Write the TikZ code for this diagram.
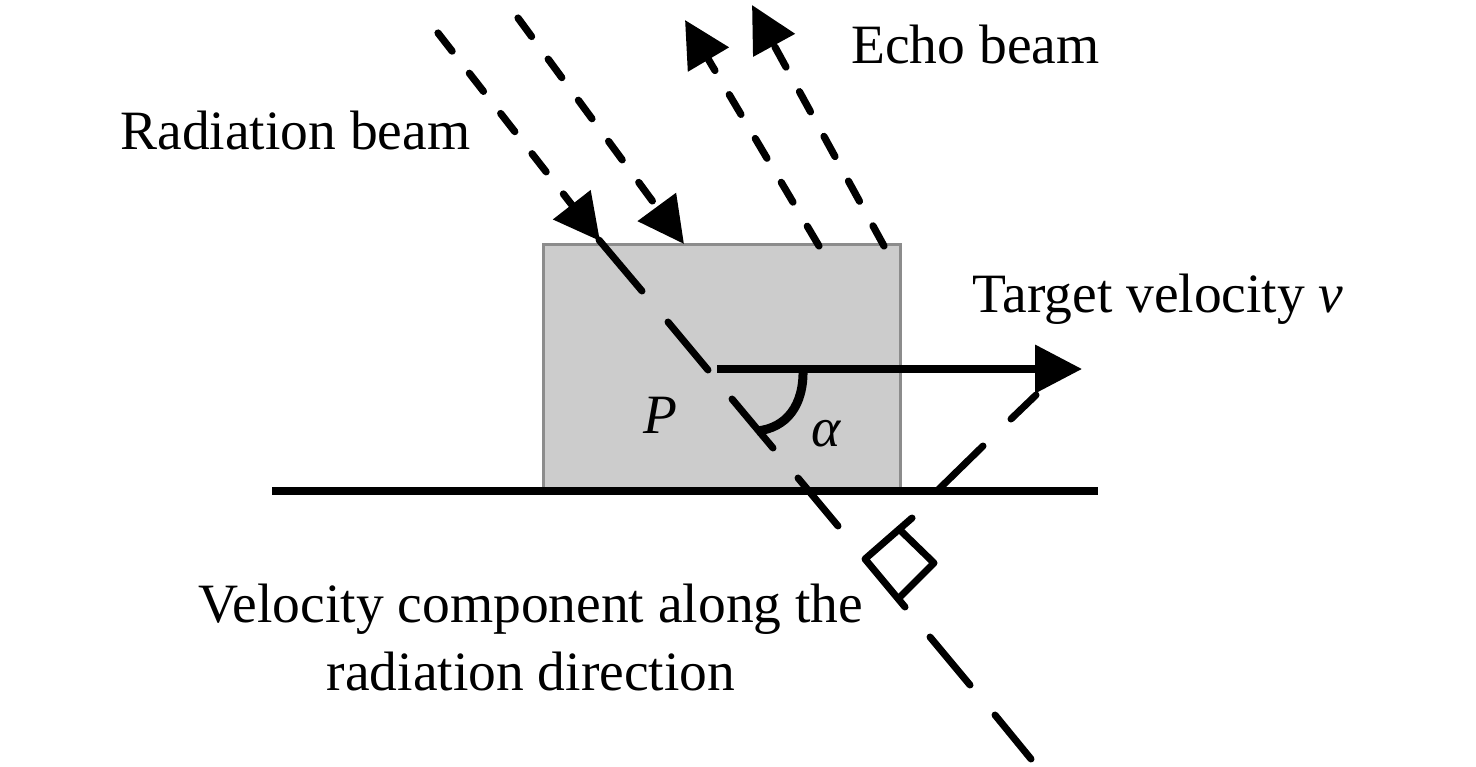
\documentclass[tikz,border=0pt]{standalone}
\usepackage{fontspec}
\setmainfont{Liberation Serif}
\usetikzlibrary{arrows.meta}
\begin{document}
\begin{tikzpicture}[x=0.5pt,y=-0.5pt,
  lbl/.style={font=\fontsize{27.75}{35}\selectfont, inner sep=0pt},
  beamline/.style={line width=3.6pt, line cap=round, dash pattern=on 11.5pt off 14pt,
     -{Triangle[length=23pt,width=23pt]}},
  seg/.style={line width=3.5pt, line cap=round},
  target/.style={fill=black!20, draw=black!45, line width=1.5pt},
  ground/.style={line width=3.8pt},
  velo/.style={line width=3.8pt, -{Triangle[length=23.5pt,width=23.5pt]}},
  anglearc/.style={line width=4.5pt}
]
\useasboundingbox (0,0) rectangle (1476,766);
% target body and ground
\node[target, minimum width=178.5pt, minimum height=123.5pt, inner sep=0pt] (body) at (721.5,367.5) {};
\coordinate (g1) at (272,491);
\coordinate (g2) at (1098,491);
\draw[ground] (g1) -- (g2);
% radiation beams
\coordinate (r1s) at (438,33);  \coordinate (r1e) at (600,241);
\coordinate (r2s) at (518,18);  \coordinate (r2e) at (684,244);
\draw[beamline] (r1s) -- (r1e);
\draw[beamline] (r2s) -- (r2e);
% echo beams
\coordinate (e1s) at (819,246); \coordinate (e1e) at (685,20);
\coordinate (e2s) at (884,246); \coordinate (e2e) at (752,5);
\draw[beamline] (e1s) -- (e1e);
\draw[beamline] (e2s) -- (e2e);
% radiation direction (long dashes)
\coordinate (d1a) at (599,240); \coordinate (d1b) at (642,291);
\coordinate (d2a) at (668,322); \coordinate (d2b) at (708,370);
\coordinate (d3a) at (732,399); \coordinate (d3b) at (773,448);
\coordinate (d4a) at (798,478); \coordinate (d4b) at (838,526);
\coordinate (d5a) at (930,637); \coordinate (d5b) at (970,685);
\coordinate (d6a) at (995,715); \coordinate (d6b) at (1031,759);
\foreach \a/\b in {d1a/d1b,d2a/d2b,d3a/d3b,d4a/d4b,d5a/d5b,d6a/d6b}
  \draw[seg] (\a) -- (\b);
% right-angle marker
\coordinate (A) at (865,559);
\coordinate (B) at (900,530);
\coordinate (C) at (934,563);
\coordinate (D) at (900,597);
\coordinate (Bx) at (912,518);
\coordinate (Dx) at (905,607);
\draw[seg, line join=round] (Bx) -- (A) -- (Dx);
\draw[seg, line join=round] (B) -- (C) -- (D);
% projection line
\coordinate (p1a) at (938,490); \coordinate (p1b) at (983,446);
\coordinate (p2a) at (1011,419); \coordinate (p2b) at (1036,395);
\draw[seg] (p1a) -- (p1b);
\draw[seg] (p2a) -- (p2b);
% velocity
\coordinate (vs) at (717,369);
\coordinate (ve) at (1082,369);
\draw[velo] (vs) -- (ve);
% angle arc
\coordinate (arcA) at (803,369);
\coordinate (arcB) at (757,431);
\draw[anglearc] (arcA) .. controls (804,406) and (786,428) .. (arcB);
% labels
\node[lbl, anchor=base west] (rad) at (120,149) {Radiation beam};
\node[lbl, anchor=base west] (echo) at (851,63) {Echo beam};
\node[lbl, anchor=base west] (tv) at (972,312) {Target velocity \textit{v}};
\node[lbl, anchor=base] (P) at (660,433) {\textit{P}};
\node[lbl, anchor=base] (al) at (827,446) {\textit{α}};
\node[lbl, anchor=base] (vc1) at (531,622) {Velocity component along the};
\node[lbl, anchor=base] (vc2) at (531,690) {radiation direction};
\end{tikzpicture}
\end{document}
